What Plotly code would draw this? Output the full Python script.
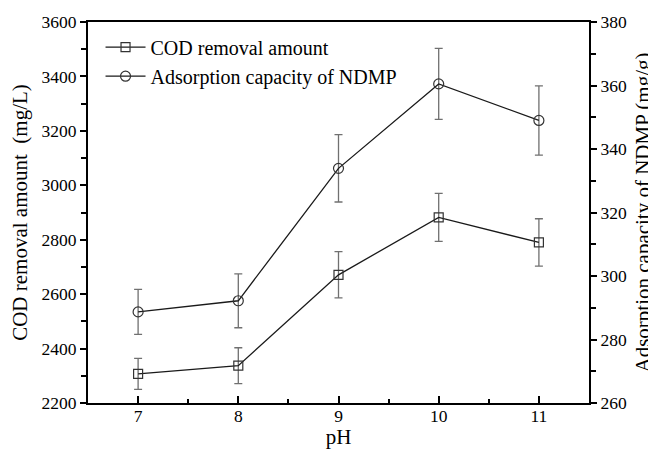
import plotly.graph_objects as go

ph = [7, 8, 9, 10, 11]
cod_removal = [2307, 2337, 2671, 2882, 2790]
cod_err = [57, 66, 85, 88, 87]
adsorption = [288.7, 292.2, 333.9, 360.5, 349.0]
adsorption_err = [7.1, 8.5, 10.6, 11.2, 10.9]

FONT = "'Liberation Serif', 'Times New Roman', 'DejaVu Serif', serif"
LINE = "#1a1a1a"
ERR = "#707070"

fig = go.Figure()
fig.add_trace(go.Scatter(
    x=ph, y=cod_removal, name="COD removal amount", mode="lines+markers",
    line=dict(color=LINE, width=1.3),
    marker=dict(symbol="square-open", size=9, color="#333333", line=dict(width=1.2)),
    error_y=dict(type="data", array=cod_err, color=ERR, thickness=1.3, width=4),
    yaxis="y"))
fig.add_trace(go.Scatter(
    x=ph, y=adsorption, name="Adsorption capacity of NDMP", mode="lines+markers",
    line=dict(color=LINE, width=1.3),
    marker=dict(symbol="circle-open", size=10, color="#333333", line=dict(width=1.2)),
    error_y=dict(type="data", array=adsorption_err, color=ERR, thickness=1.3, width=4),
    yaxis="y2"))

axis_common = dict(showgrid=False, zeroline=False, showline=True, linecolor="black",
                   linewidth=2, tickcolor="black", tickwidth=1.5, automargin=False,
                   tickfont=dict(family=FONT, size=17.5, color="black"))

# the page body has an 8px margin, so the figure is sized/offset to compensate
fig.update_layout(
    width=648, height=441,
    margin=dict(l=80, r=67, t=14, b=46),
    paper_bgcolor="white", plot_bgcolor="white",
    font=dict(family=FONT, color="black"),
    showlegend=True,
    legend=dict(x=0.025, y=0.985, xanchor="left", yanchor="top",
                bgcolor="rgba(0,0,0,0)", font=dict(family=FONT, size=20, color="black"),
                tracegroupgap=0, itemwidth=40),
    xaxis=dict(range=[6.5, 11.5], tickvals=ph, ticks="inside", ticklen=7,
               mirror=True, ticklabelstandoff=-4,
               minor=dict(dtick=0.5, tick0=6.5, ticks="inside", ticklen=4, tickcolor="black", tickwidth=1.5),
               title=dict(text="pH", font=dict(family=FONT, size=21), standoff=5),
               **axis_common),
    yaxis=dict(range=[2200, 3600], dtick=200, ticks="outside", ticklen=6,
               minor=dict(dtick=100, ticks="outside", ticklen=5, tickcolor="black", tickwidth=1.5),
               title=dict(text="COD removal amount\u00a0 (mg/L)", font=dict(family=FONT, size=21), standoff=12),
               **axis_common),
    yaxis2=dict(range=[260, 380], dtick=20, ticks="outside", ticklen=6, overlaying="y", side="right",
                minor=dict(dtick=10, ticks="outside", ticklen=5, tickcolor="black", tickwidth=1.5),
                title=dict(text="Adsorption capacity of NDMP (mg/g)", font=dict(family=FONT, size=21), standoff=9),
                **axis_common),
)

fig.write_html("out.html")
